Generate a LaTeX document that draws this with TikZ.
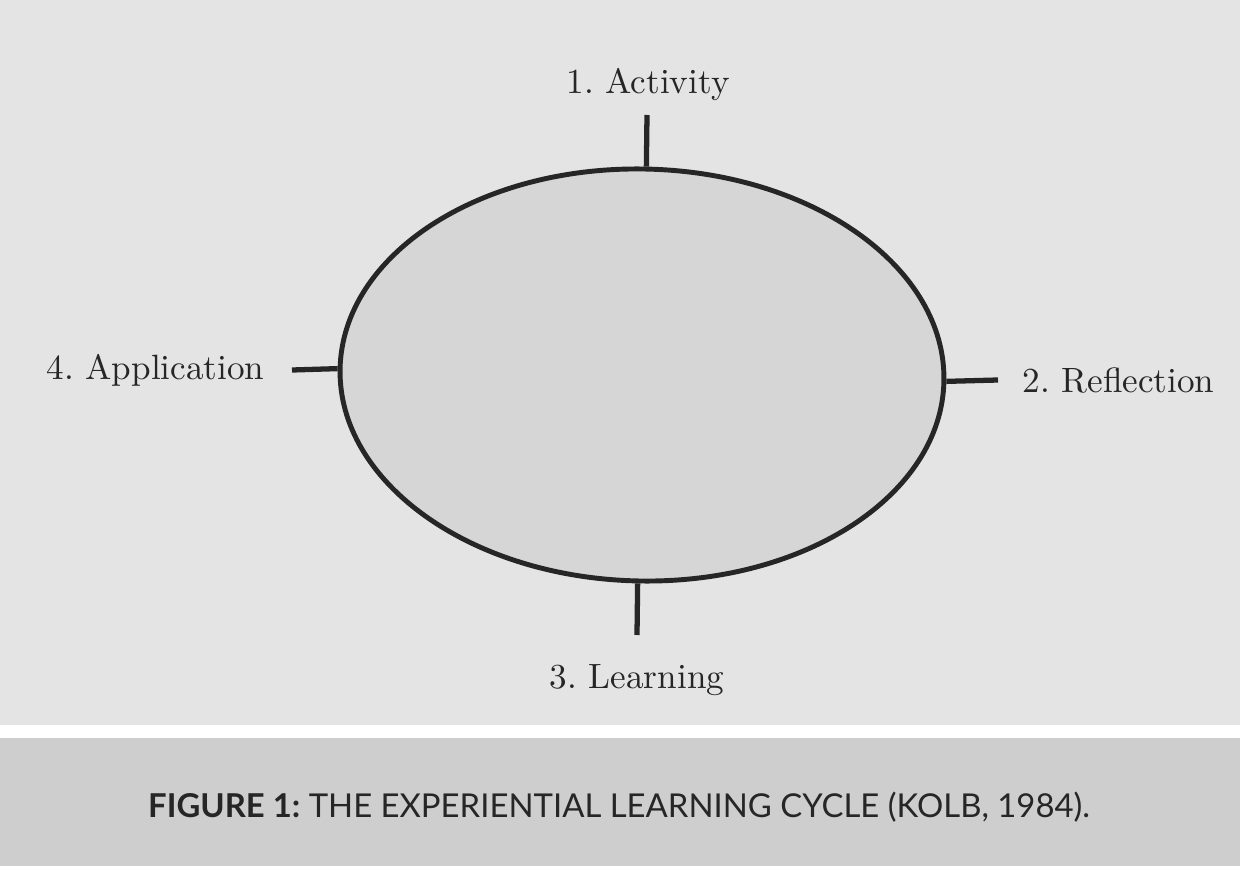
\documentclass[tikz,border=0pt]{standalone}
\usepackage{fontspec}
\newfontfamily\capfont{Lato}
\usetikzlibrary{shapes.geometric}
\frenchspacing

\definecolor{paper}{RGB}{228,228,228}
\definecolor{band}{RGB}{206,206,206}
\definecolor{inner}{RGB}{214,214,214}
\definecolor{ink}{RGB}{38,38,38}

\tikzset{
	phase/.style={font=\fontsize{10}{12}\selectfont, text=ink, inner sep=0pt},
	tick/.style={line width=1.5pt, draw=ink},
}

\begin{document}
\begin{tikzpicture}
	\useasboundingbox (0,0) rectangle (12.55,8.71);
	% Hintergrund
	\fill[white] (0,0) rectangle (12.55,8.71);
	\fill[paper] (0,1.46) rectangle (12.40,8.71);
	\fill[band] (0,0.05) rectangle (12.40,1.33);

	% Zyklus
	\node[ellipse, draw=ink, line width=1.4pt, fill=inner, inner sep=0pt,
		minimum width=6.04cm, minimum height=4.12cm, rotate=-1.2] (cycle) at (6.42,4.96) {};

	% Phasen
	\node[phase, anchor=base] (activity) at (6.48,7.77) {1. Activity};
	\node[phase, anchor=base west] (reflection) at (10.22,4.78) {2. Reflection};
	\node[phase, anchor=base] (learning) at (6.37,1.83) {3. Learning};
	\node[phase, anchor=base east] (application) at (2.65,4.91) {4. Application};

	% Striche
	\coordinate (t1) at (6.47,7.56);
	\coordinate (t2) at (9.98,4.91);
	\coordinate (t3) at (6.37,2.36);
	\coordinate (t4) at (2.92,5.01);
	\draw[tick] (cycle.north) -- (t1);
	\draw[tick] (cycle.east) -- (t2);
	\draw[tick] (cycle.south) -- (t3);
	\draw[tick] (cycle.west) -- (t4);

	% Bildunterschrift
	\node[font=\capfont\fontsize{9.35}{11}\selectfont, text=ink, anchor=base] (caption) at (6.19,0.54)
		{\textbf{FIGURE 1:} THE EXPERIENTIAL LEARNING CYCLE (KOLB, 1984).};
\end{tikzpicture}
\end{document}
